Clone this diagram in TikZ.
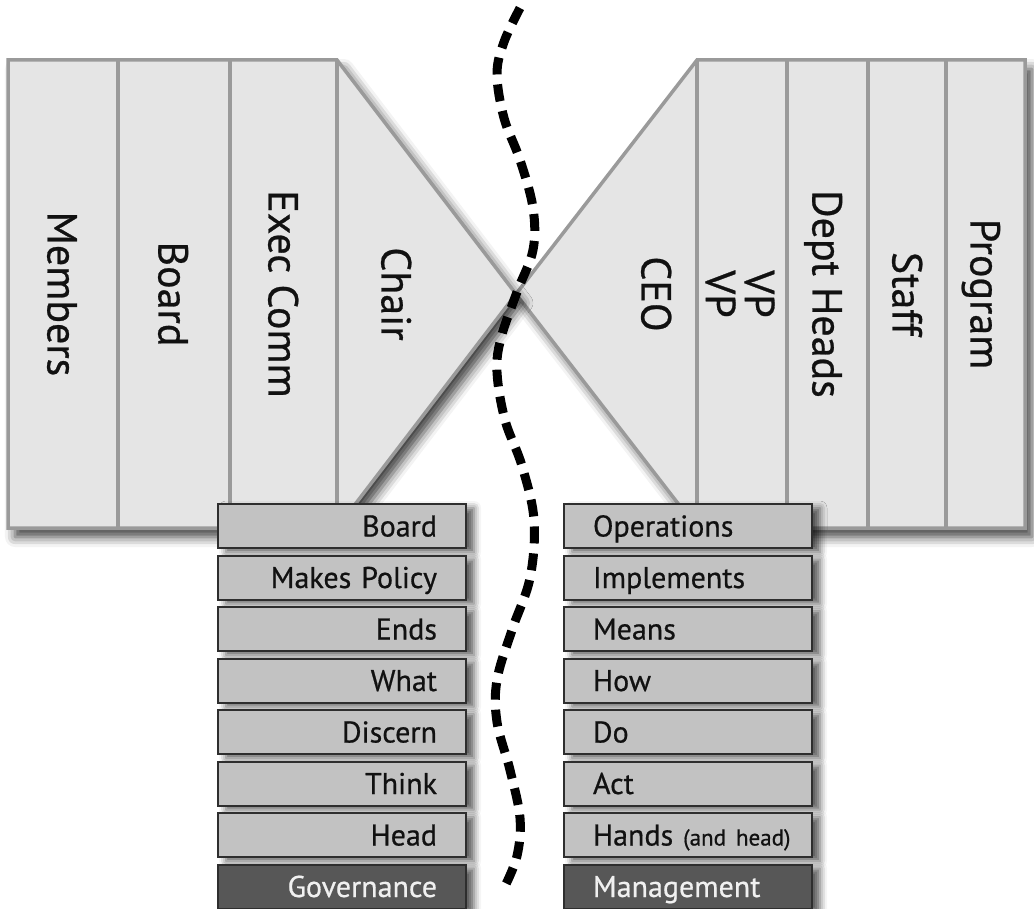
\documentclass[tikz,border=0pt]{standalone}
\usepackage{fontspec}
\setmainfont{PT Sans}[FakeBold=0.6]
\usetikzlibrary{shadows.blur}

\definecolor{panelfill}{HTML}{E5E5E5}
\definecolor{panelline}{HTML}{9A9A9A}
\definecolor{cellfill}{HTML}{C2C2C2}
\definecolor{cellline}{HTML}{2E2E2E}
\definecolor{keyfill}{HTML}{575757}
\definecolor{inkblack}{HTML}{111111}

\begin{document}
\begin{tikzpicture}[x=1pt,y=-1pt,
  panel/.style={fill=panelfill, draw=panelline, line width=3.5pt, line join=miter,
    blur shadow={shadow xshift=7pt, shadow yshift=-9pt, shadow blur radius=10pt, shadow opacity=75}},
  divider/.style={draw=panelline, line width=3.5pt},
  collabel/.style={rotate=-90, text=inkblack, font=\fontsize{42}{40}\selectfont,
    text height=29pt, text depth=0pt, inner sep=0pt, align=center},
  stacklabel/.style={rotate=-90, text=inkblack, font=\fontsize{42}{39}\selectfont,
    inner sep=0pt, align=center},
  cellbase/.style={draw=cellline, line width=2pt, minimum height=44pt,
    text width=190pt, inner xsep=29pt, inner ysep=0pt,
    font=\fontsize{30}{32}\selectfont, text height=21pt, text depth=0pt,
    anchor=north west,
    blur shadow={shadow xshift=8pt, shadow yshift=-4pt, shadow blur radius=7pt, shadow opacity=65}},
  gcell/.style={cellbase, fill=cellfill, text=inkblack, align=right},
  mcell/.style={cellbase, fill=cellfill, text=inkblack, align=left},
  gkey/.style={cellbase, fill=keyfill, text=white!94!black, align=right},
  mkey/.style={cellbase, fill=keyfill, text=white!94!black, align=left},
  divide/.style={draw=black, line width=9pt, dash pattern=on 17pt off 10pt}
]
\useasboundingbox (0,0) rectangle (1034,909);

% management panel: CEO wedge plus four columns
\path[panel] (697,60) -- (1025,60) -- (1025,528) -- (697,528) -- (516,294) -- cycle;
\foreach \cx in {697,787,868,946} \draw[divider] (\cx,60) -- (\cx,528);

% governance panel: three columns plus the Chair wedge
\path[panel] (8,60) -- (337,60) -- (516,294) -- (337,528) -- (8,528) -- cycle;
\foreach \cx in {118,230,337} \draw[divider] (\cx,60) -- (\cx,528);

% column labels
\node[collabel] (members) at (62,294) {Members};
\node[collabel] (board)   at (173,294) {Board};
\node[collabel] (exec)    at (283,294) {Exec Comm};
\node[collabel] (chair)   at (396,294) {Chair};
\node[collabel] (ceo)     at (656,294) {CEO};
\node[stacklabel] (vp)    at (740,294) {VP\\VP};
\node[collabel] (dept)    at (827,294) {Dept Heads};
\node[collabel] (staff)   at (907,294) {Staff};
\node[collabel] (program) at (985,294) {Program};

% governance stack
\node[gcell] (g1) at (217,503)   {Board};
\node[gcell] (g2) at (217,554.5) {Makes Policy};
\node[gcell] (g3) at (217,606)   {Ends};
\node[gcell] (g4) at (217,657.5) {What};
\node[gcell] (g5) at (217,709)   {Discern};
\node[gcell] (g6) at (217,760.5) {Think};
\node[gcell] (g7) at (217,812)   {Head};
\node[gkey]  (g8) at (217,863.5) {Governance};

% management stack
\node[mcell] (m1) at (563,503)   {Operations};
\node[mcell] (m2) at (563,554.5) {Implements};
\node[mcell] (m3) at (563,606)   {Means};
\node[mcell] (m4) at (563,657.5) {How};
\node[mcell] (m5) at (563,709)   {Do};
\node[mcell] (m6) at (563,760.5) {Act};
\node[mcell] (m7) at (563,812)   {\makebox[190pt][l]{Hands {\fontsize{23}{26}\selectfont(and head)}}};
\node[mkey]  (m8) at (563,863.5) {Management};

% wavy dividing line
\draw[divide] plot[smooth, tension=0.6] coordinates {
  (520,8) (504,42) (497,74) (504,118) (520,160) (533,208) (533,250) (517,292)
  (501,338) (497,372) (505,420) (522,466) (534,520) (530,578) (512,630)
  (497,680) (497,722) (510,770) (520,818) (517,856) (505,886)};
\end{tikzpicture}
\end{document}
